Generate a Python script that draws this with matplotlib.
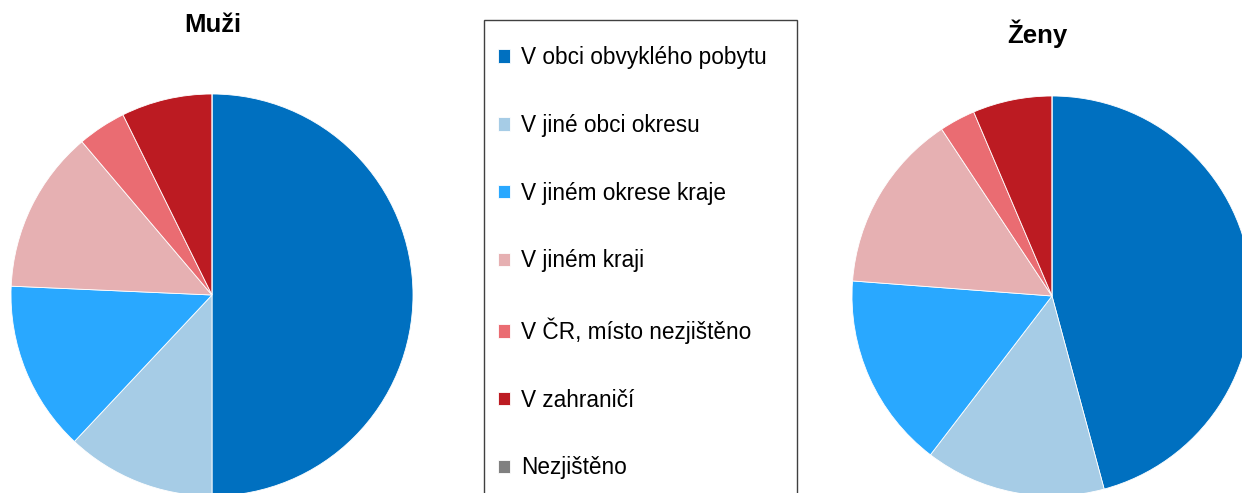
import matplotlib.pyplot as plt
from matplotlib.patches import Rectangle

plt.rcParams['font.family'] = ['Liberation Sans', 'DejaVu Sans']

# categories and shares (%)
categories = ['V obci obvyklého pobytu', 'V jiné obci okresu', 'V jiném okrese kraje',
              'V jiném kraji', 'V ČR, místo nezjištěno', 'V zahraničí', 'Nezjištěno']
muzi = [50.0, 12.0, 13.7, 13.1, 3.9, 7.3, 0.0]
zeny = [45.8, 14.6, 15.8, 14.5, 2.9, 6.4, 0.0]
colors = ['#0070C0', '#A6CCE6', '#29A8FF', '#E6B0B2', '#EA6C72', '#BC1B22', '#808080']

W, H = 1242, 493
fig = plt.figure(figsize=(W / 100, H / 100), dpi=100)

def px_axes(cx, cy, r):
    # axes box in pixel coords (y measured from top)
    return fig.add_axes([(cx - r) / W, (H - cy - r) / H, 2 * r / W, 2 * r / H])

ax1 = px_axes(212, 295, 201)
wedges, _ = ax1.pie(muzi, colors=colors, startangle=90, counterclock=False,
                    wedgeprops=dict(edgecolor='white', linewidth=0.6))
ax1.set_xlim(-1, 1)
ax1.set_ylim(-1, 1)
ax1.set_aspect('equal')

ax2 = px_axes(1052, 296, 200)
ax2.pie(zeny, colors=colors, startangle=90, counterclock=False,
        wedgeprops=dict(edgecolor='white', linewidth=0.6))
ax2.set_xlim(-1, 1)
ax2.set_ylim(-1, 1)
ax2.set_aspect('equal')

fig.text(213 / W, 1 - 32 / H, 'Muži', ha='center', va='baseline',
         fontsize=18.5, fontweight='bold')
fig.text(1037 / W, 1 - 43 / H, 'Ženy', ha='center', va='baseline',
         fontsize=18.5, fontweight='bold')

# legend frame
fig.patches.append(Rectangle((484 / W, -10 / H), (797 - 484) / W, (H - 20 + 10) / H,
                             transform=fig.transFigure, fill=False,
                             edgecolor='#404040', linewidth=1.0))

fig.legend(wedges, categories, loc='upper left',
           bbox_to_anchor=(498 / W, 1 - 46 / H), frameon=False,
           fontsize=16.3, handlelength=0.55, handleheight=0.55, handletextpad=0.45,
           labelspacing=1.98, borderpad=0, borderaxespad=0)

fig.savefig('out.png', dpi=100)
